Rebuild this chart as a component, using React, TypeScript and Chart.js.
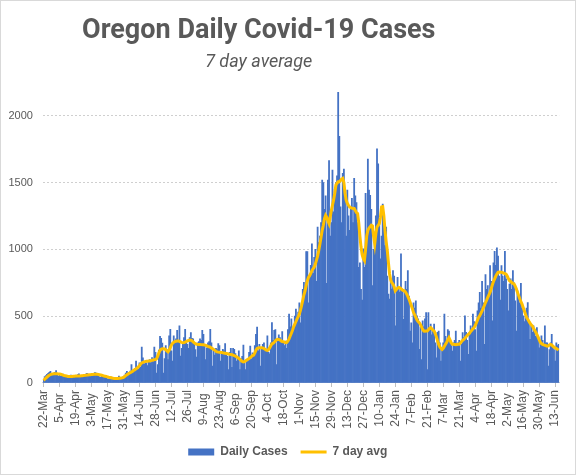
import React, { useEffect, useRef } from 'react';
import { Chart, registerables } from 'chart.js';

Chart.register(...registerables);

// Daily cases, one row per week, starting Sunday 22-Mar-2020 and ending 16-Jun-2021
const DAILY_CASES: number[] = [
  25, 48, 56, 64, 72, 80, 88,
  60, 66, 74, 80, 92, 70, 50,
  64, 50, 58, 66, 52, 56, 44,
  38, 44, 54, 60, 54, 48, 46,
  42, 46, 62, 68, 58, 50, 52,
  44, 52, 66, 72, 66, 58, 60,
  52, 56, 70, 78, 74, 66, 62,
  46, 42, 54, 58, 50, 46, 48,
  32, 30, 40, 46, 38, 34, 30,
  24, 30, 42, 52, 40, 34, 42,
  44, 60, 74, 88, 70, 76, 90,
  138, 84, 96, 110, 163, 120, 102,
  150, 118, 269, 188, 140, 163, 150,
  130, 163, 176, 150, 190, 160, 269,
  230, 75, 138, 246, 350, 334, 299,
  75, 183, 280, 250, 176, 352, 402,
  240, 163, 352, 300, 330, 394, 320,
  427, 201, 260, 289, 340, 402, 300,
  289, 260, 340, 377, 334, 330, 290,
  250, 194, 300, 310, 330, 320, 394,
  364, 280, 176, 264, 300, 310, 402,
  300, 126, 240, 209, 260, 250, 294,
  280, 163, 230, 251, 240, 294, 230,
  200, 101, 230, 260, 118, 260, 251,
  220, 163, 200, 240, 101, 180, 200,
  284, 150, 101, 160, 176, 230, 276,
  180, 226, 200, 280, 364, 419, 240,
  290, 126, 260, 289, 300, 260, 250,
  352, 230, 218, 300, 452, 320, 394,
  400, 138, 327, 360, 340, 300, 384,
  300, 280, 314, 260, 400, 515, 420,
  480, 380, 420, 500, 553, 460, 530,
  600, 450, 580, 700, 753, 680, 984,
  984, 600, 800, 880, 1042, 820, 940,
  1000, 760, 1167, 1050, 1100, 1200, 1519,
  1500, 1300, 1400, 745, 1519, 1664, 1100,
  1200, 1594, 1280, 1450, 1500, 1550, 2176,
  1845, 1318, 1200, 1569, 1600, 1443, 1100,
  1443, 1250, 1142, 1300, 1381, 1200, 1531,
  1400, 1350, 1200, 866, 900, 700, 620,
  1004, 866, 1420, 1100, 1675, 1443, 1405,
  1300, 728, 1000, 1100, 1250, 1752, 1640,
  1200, 929, 1100, 1338, 1200, 1029, 1167,
  800, 666, 628, 760, 703, 841, 800,
  427, 700, 791, 720, 680, 967, 700,
  477, 690, 760, 700, 841, 650, 389,
  450, 301, 600, 560, 615, 502, 480,
  251, 420, 176, 465, 420, 480, 527,
  101, 527, 400, 440, 360, 400, 440,
  300, 188, 380, 389, 300, 163, 260,
  300, 515, 350, 300, 400, 389, 300,
  280, 239, 300, 320, 389, 280, 300,
  320, 163, 290, 377, 340, 502, 380,
  320, 214, 380, 427, 400, 515, 460,
  400, 239, 540, 600, 678, 560, 761,
  600, 289, 811, 700, 728, 640, 879,
  760, 465, 900, 986, 880, 1012, 950,
  800, 620, 879, 800, 760, 986, 780,
  700, 540, 741, 780, 700, 841, 750,
  615, 389, 690, 640, 600, 745, 560,
  502, 460, 500, 560, 602, 450, 327,
  430, 380, 427, 400, 350, 414, 330,
  264, 300, 352, 320, 280, 427, 300,
  300, 126, 250, 300, 364, 280, 250,
  163, 300, 280, 289,
];

// 7 day average, one row per week
const AVG_7DAY: number[] = [
  20, 28, 36, 44, 52, 58, 63,
  66, 68, 69, 70, 70, 69, 68,
  67, 65, 62, 59, 56, 54, 52,
  50, 49, 48, 48, 49, 50, 51,
  52, 53, 53, 53, 53, 54, 55,
  56, 57, 58, 59, 60, 61, 62,
  63, 64, 65, 66, 66, 65, 64,
  62, 60, 58, 55, 52, 50, 48,
  46, 43, 41, 39, 37, 35, 34,
  33, 33, 34, 35, 36, 37, 38,
  42, 48, 55, 62, 68, 73, 77,
  82, 88, 95, 100, 106, 112, 120,
  130, 142, 150, 155, 158, 160, 162,
  163, 164, 165, 167, 170, 172, 175,
  176, 182, 200, 225, 244, 252, 256,
  256, 254, 250, 240, 233, 245, 265,
  285, 298, 305, 310, 312, 314, 314,
  312, 308, 304, 301, 302, 305, 310,
  315, 318, 321, 320, 316, 308, 300,
  294, 290, 289, 288, 288, 287, 286,
  286, 285, 282, 278, 274, 271, 268,
  262, 256, 250, 244, 238, 233, 231,
  230, 229, 228, 226, 225, 223, 221,
  219, 217, 215, 214, 212, 208, 204,
  201, 196, 190, 184, 176, 168, 162,
  158, 160, 166, 172, 178, 183, 190,
  198, 205, 209, 225, 245, 259, 262,
  264, 264, 263, 262, 258, 252, 246,
  244, 250, 262, 278, 292, 297, 305,
  315, 323, 327, 326, 322, 316, 310,
  309, 305, 301, 303, 315, 330, 352,
  372, 395, 420, 440, 460, 480, 497,
  515, 545, 580, 620, 660, 690, 730,
  765, 790, 803, 820, 840, 855, 866,
  890, 920, 950, 992, 1040, 1090, 1142,
  1180, 1230, 1255, 1240, 1215, 1193, 1240,
  1290, 1330, 1370, 1420, 1481, 1495, 1506,
  1506, 1515, 1525, 1531, 1500, 1420, 1368,
  1345, 1330, 1318, 1312, 1308, 1305, 1305,
  1290, 1275, 1268, 1200, 1100, 1017, 960,
  930, 916, 1000, 1100, 1142, 1160, 1170,
  1180, 1175, 1100, 1042, 1120, 1167, 1180,
  1193, 1240, 1318, 1320, 1250, 1142, 1060,
  992, 900, 816, 770, 750, 741, 720,
  690, 700, 710, 715, 712, 705, 698,
  692, 690, 680, 665, 648, 628, 605,
  580, 555, 527, 510, 490, 472, 460,
  452, 438, 420, 400, 389, 388, 389,
  389, 398, 408, 414, 405, 395, 389,
  370, 345, 315, 289, 270, 258, 251,
  260, 275, 289, 305, 322, 339, 320,
  300, 289, 289, 288, 287, 288, 289,
  289, 298, 310, 320, 327, 335, 345,
  355, 364, 372, 385, 395, 405, 414,
  430, 450, 470, 490, 505, 522, 540,
  560, 580, 602, 620, 640, 660, 678,
  705, 735, 760, 779, 800, 815, 828,
  830, 829, 828, 826, 822, 818, 814,
  800, 782, 766, 760, 752, 745, 741,
  725, 705, 678, 655, 630, 610, 590,
  565, 540, 515, 490, 477, 462, 448,
  435, 427, 410, 395, 380, 364, 345,
  325, 305, 295, 289, 285, 282, 280,
  276, 278, 284, 289, 285, 276, 268,
  264, 258, 252, 246,
];

// Axis labels shown every 14 days
const TICK_LABELS: string[] = [
  '22-Mar', '5-Apr', '19-Apr', '3-May', '17-May', '31-May', '14-Jun', '28-Jun',
  '12-Jul', '26-Jul', '9-Aug', '23-Aug', '6-Sep', '20-Sep', '4-Oct', '18-Oct',
  '1-Nov', '15-Nov', '29-Nov', '13-Dec', '27-Dec', '10-Jan', '24-Jan', '7-Feb',
  '21-Feb', '7-Mar', '21-Mar', '4-Apr', '18-Apr', '2-May', '16-May', '30-May', '13-Jun',
];
const TICK_EVERY = 14;
const Y_TICKS: number[] = [0, 500, 1000, 1500, 2000];
const Y_MAX = 2200;

const MONTHS = ['Jan', 'Feb', 'Mar', 'Apr', 'May', 'Jun', 'Jul', 'Aug', 'Sep', 'Oct', 'Nov', 'Dec'];
const CATEGORIES: string[] = DAILY_CASES.map((_, i) => {
  const d = new Date(Date.UTC(2020, 2, 22 + i));
  return `${d.getUTCDate()}-${MONTHS[d.getUTCMonth()]}`;
});

const TEXT = '#595959';

// Nudge title/subtitle left and legend right, as placed in the reference
const boxShift = {
  id: 'boxShift',
  afterLayout(chart: any) {
    chart.boxes.forEach((b: any) => {
      const t = b && b.options && b.options.text;
      if (t === 'Oregon Daily Covid-19 Cases' || t === '7 day average') {
        b.left -= 24;
        b.right -= 24;
      }
    });
    if (chart.legend) {
      chart.legend.left += 5;
      chart.legend.right += 5;
    }
  },
};

export default function App() {
  const ref = useRef<HTMLCanvasElement | null>(null);

  useEffect(() => {
    if (!ref.current) return;
    const chart = new Chart(ref.current, {
      data: {
        labels: CATEGORIES,
        datasets: [
          {
            type: 'bar',
            label: 'Daily Cases',
            data: DAILY_CASES,
            backgroundColor: '#4472C4',
            borderWidth: 0,
            barPercentage: 1,
            categoryPercentage: 1,
            order: 2,
          } as any,
          {
            type: 'line',
            label: '7 day avg',
            data: AVG_7DAY,
            borderColor: '#FFC000',
            backgroundColor: '#FFC000',
            borderWidth: 3,
            pointRadius: 0,
            tension: 0,
            order: 1,
          } as any,
        ],
      },
      plugins: [boxShift],
      options: {
        responsive: false,
        animation: false,
        events: [],
        layout: { padding: { left: 3.5, right: 14, top: 0, bottom: 7 } },
        plugins: {
          title: {
            display: true,
            text: 'Oregon Daily Covid-19 Cases',
            color: TEXT,
            font: { family: 'Roboto', size: 27, weight: 'bold', lineHeight: 1.2 },
            padding: { top: 15, bottom: 4 },
          },
          subtitle: {
            display: true,
            text: '7 day average',
            color: TEXT,
            font: { family: 'Roboto', size: 18, style: 'italic', lineHeight: 1.2 },
            padding: { top: 0, bottom: 16 },
          },
          legend: {
            position: 'bottom',
            labels: {
              usePointStyle: true,
              pointStyleWidth: 26,
              boxHeight: 7,
              padding: 13,
              color: TEXT,
              font: { family: 'Liberation Sans', size: 12, weight: 'bold' },
              generateLabels: (c: any) => [
                {
                  text: c.data.datasets[0].label,
                  fillStyle: '#4472C4',
                  strokeStyle: '#4472C4',
                  lineWidth: 0,
                  pointStyle: 'rect',
                  datasetIndex: 0,
                  hidden: false,
                  fontColor: TEXT,
                },
                {
                  text: c.data.datasets[1].label,
                  fillStyle: '#FFC000',
                  strokeStyle: '#FFC000',
                  lineWidth: 3,
                  pointStyle: 'line',
                  datasetIndex: 1,
                  hidden: false,
                  fontColor: TEXT,
                },
              ],
            },
          },
          tooltip: { enabled: false },
        },
        scales: {
          x: {
            grid: {
              display: true,
              drawOnChartArea: false,
              drawTicks: true,
              tickLength: 4,
              offset: false,
              color: '#bfbfbf',
              lineWidth: (ctx: any) => (ctx.index % TICK_EVERY === 0 ? 1 : 0),
            },
            border: { display: true, color: '#d0d0d0', width: 1 },
            ticks: {
              autoSkip: false,
              maxRotation: 90,
              minRotation: 90,
              padding: 3,
              color: TEXT,
              font: { family: 'Liberation Sans', size: 12 },
              callback: (_v: any, index: number) => {
                if (index % TICK_EVERY !== 0) return '';
                const lab = TICK_LABELS[index / TICK_EVERY] ?? '';
                return lab.indexOf('-') === 1 ? lab + ' ' : lab;
              },
            },
          },
          y: {
            min: 0,
            max: Y_MAX,
            afterBuildTicks: (axis: any) => {
              axis.ticks = Y_TICKS.map((v) => ({ value: v }));
            },
            grid: {
              color: '#cfcfcf',
              drawTicks: true,
              tickLength: 5,
              tickColor: 'rgba(0,0,0,0)',
              lineWidth: 1,
            },
            border: { display: false, dash: [2, 2] },
            ticks: {
              padding: 5,
              color: TEXT,
              font: { family: 'Liberation Sans', size: 11 },
              callback: (v: any) => String(v),
            },
          },
        },
      },
    });
    return () => chart.destroy();
  }, []);

  return (
    <div style={{ position: 'fixed', left: 0, top: 0, width: 576, height: 475, background: '#fff' }}>
      <canvas ref={ref} width={576} height={475} style={{ display: 'block' }} />
      <div
        style={{
          position: 'absolute', left: 0, top: 0, width: 576, height: 475,
          boxSizing: 'border-box', border: '1px solid #d9d9d9', pointerEvents: 'none',
        }}
      />
    </div>
  );
}
